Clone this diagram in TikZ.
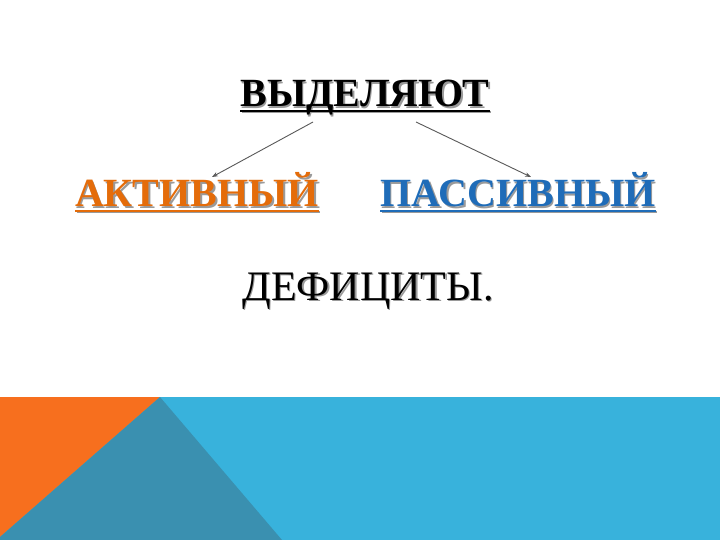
\documentclass[tikz,border=0pt]{standalone}
\usepackage{fontspec}
\setmainfont{Liberation Serif}
\usetikzlibrary{arrows.meta}
\definecolor{orangetxt}{HTML}{E46C0A}
\definecolor{bluetxt}{HTML}{1F6CB8}
\definecolor{bandorange}{HTML}{F76F1E}
\definecolor{banddark}{HTML}{3A90B0}
\definecolor{bandlight}{HTML}{38B2DC}
\definecolor{shadowgray}{HTML}{9A9A9A}
\newcommand\myul[1]{\setbox0\hbox{#1}\rlap{\rule[-5pt]{\wd0}{2.2pt}}\box0}
\begin{document}
\begin{tikzpicture}[x=1pt,y=-1pt,
  lbl/.style={inner sep=0pt, anchor=base},
  shd/.style={lbl, text=shadowgray},
  conn/.style={draw=gray!70!black, line width=0.9pt, -{Stealth[length=6pt,width=4.5pt]}}]
\useasboundingbox (0,0) rectangle (720,540);
\fill[white] (0,0) rectangle (720,540);
% bottom band
\fill[bandlight] (0,397) rectangle (720,540);
\fill[bandorange] (0,397) -- (160,397) -- (0,537) -- cycle;
\fill[banddark] (160,397) -- (282,540) -- (0,540) -- (0,537) -- cycle;
% texts
\node[shd] (t1s) at (366.5,108.5) {\fontsize{40}{46}\selectfont\bfseries\myul{ВЫДЕЛЯЮТ}};
\node[lbl] (t1) at (365,107) {\fontsize{40}{46}\selectfont\bfseries\myul{ВЫДЕЛЯЮТ}};
\node[shd] (a1s) at (198.5,208.5) {\fontsize{40}{46}\selectfont\bfseries\myul{АКТИВНЫЙ}};
\node[lbl,text=orangetxt] (a1) at (197,207) {\fontsize{40}{46}\selectfont\bfseries\myul{АКТИВНЫЙ}};
\node[shd] (p1s) at (519.5,208.5) {\fontsize{40}{46}\selectfont\bfseries\myul{ПАССИВНЫЙ}};
\node[lbl,text=bluetxt] (p1) at (518,207) {\fontsize{40}{46}\selectfont\bfseries\myul{ПАССИВНЫЙ}};
\node[shd] (d1s) at (369.5,301.5) {\fontsize{42}{48}\selectfont ДЕФИЦИТЫ.};
\node[lbl] (d1) at (368,300) {\fontsize{42}{48}\selectfont ДЕФИЦИТЫ.};
% connectors
\coordinate (c1) at (313,122);
\coordinate (c2) at (416,122);
\coordinate (e1) at (212,177);
\coordinate (e2) at (531,177);
\draw[conn] (c1) -- (e1);
\draw[conn] (c2) -- (e2);
\end{tikzpicture}
\end{document}
